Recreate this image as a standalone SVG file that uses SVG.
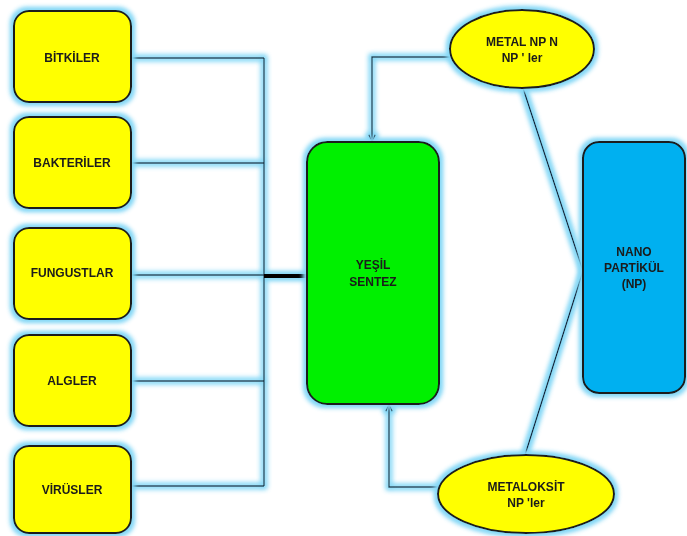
<svg xmlns="http://www.w3.org/2000/svg" width="687" height="536" viewBox="0 0 687 536">
  <defs>
    <style>
      .src { fill: #ffff00; stroke: #1a1a1a; stroke-width: 2; }
      .lbl { font-family: "Liberation Sans", Arial, sans-serif; font-weight: bold; font-size: 12px; fill: #1a1a1a; text-anchor: middle; }
      .wire { fill: none; stroke: #15283f; stroke-width: 1.4; }
    </style>
    <filter id="glow" filterUnits="userSpaceOnUse" x="0" y="0" width="687" height="536">
      <feMorphology in="SourceAlpha" operator="dilate" radius="2" result="d"/>
      <feGaussianBlur in="d" stdDeviation="2.5" result="b"/>
      <feFlood flood-color="#86d8f6"/>
      <feComposite in2="b" operator="in" result="g"/>
      <feMerge><feMergeNode in="g"/><feMergeNode in="g"/><feMergeNode in="SourceGraphic"/></feMerge>
    </filter>
    <marker id="open" viewBox="0 0 10 10" refX="9" refY="5" markerWidth="9" markerHeight="9" orient="auto" markerUnits="userSpaceOnUse">
      <path d="M1,1.5 L9,5 L1,8.5" fill="none" stroke="#15283f" stroke-width="1.4"/>
    </marker>
  </defs>

  <rect width="687" height="536" fill="#ffffff"/>

  <!-- connectors -->
  <g id="connectors" filter="url(#glow)">
    <path class="wire" d="M131,58 H264 M131,163 H264 M131,275 H264 M131,381 H264 M131,486 H264 M264,58 V486"/>
    <path d="M264,276 H307" stroke="#000000" stroke-width="4" fill="none"/>
    <path class="wire" d="M450,57 H372 V142" marker-end="url(#open)"/>
    <path class="wire" d="M438,487 H389 V404" marker-end="url(#open)"/>
    <path class="wire" d="M523,88 L583,271 L525,455"/>
  </g>

  <!-- source organisms -->
  <g id="bitkiler" filter="url(#glow)">
    <rect class="src" x="14" y="11" width="117" height="91" rx="15"/>
    <text class="lbl" x="72" y="62">BİTKİLER</text>
  </g>
  <g id="bakteriler" filter="url(#glow)">
    <rect class="src" x="14" y="117" width="117" height="91" rx="15"/>
    <text class="lbl" x="72" y="167">BAKTERİLER</text>
  </g>
  <g id="fungustlar" filter="url(#glow)">
    <rect class="src" x="14" y="228" width="117" height="91" rx="15"/>
    <text class="lbl" x="72" y="277">FUNGUSTLAR</text>
  </g>
  <g id="algler" filter="url(#glow)">
    <rect class="src" x="14" y="335" width="117" height="91" rx="15"/>
    <text class="lbl" x="72" y="385">ALGLER</text>
  </g>
  <g id="virusler" filter="url(#glow)">
    <rect class="src" x="14" y="446" width="117" height="87" rx="15"/>
    <text class="lbl" x="72" y="494">VİRÜSLER</text>
  </g>

  <!-- green synthesis -->
  <g id="yesil-sentez" filter="url(#glow)">
    <rect x="307" y="142" width="132" height="262" rx="20" fill="#00f000" stroke="#1a1a1a" stroke-width="2"/>
    <text class="lbl" x="373" y="269">YEŞİL</text>
    <text class="lbl" x="373" y="286">SENTEZ</text>
  </g>

  <!-- metal nanoparticles -->
  <g id="metal-np" filter="url(#glow)">
    <ellipse cx="522" cy="49" rx="72" ry="39" fill="#ffff00" stroke="#1a1a1a" stroke-width="2"/>
    <text class="lbl" x="522" y="46">METAL NP N</text>
    <text class="lbl" x="522" y="62">NP ' ler</text>
  </g>

  <!-- metal oxide nanoparticles -->
  <g id="metaloksit-np" filter="url(#glow)">
    <ellipse cx="526" cy="494" rx="88" ry="39" fill="#ffff00" stroke="#1a1a1a" stroke-width="2"/>
    <text class="lbl" x="526" y="491">METALOKSİT</text>
    <text class="lbl" x="526" y="507">NP 'ler</text>
  </g>

  <!-- nanoparticle -->
  <g id="nano-partikul" filter="url(#glow)">
    <rect x="583" y="142" width="102" height="251" rx="16" fill="#00b0f0" stroke="#1a1a1a" stroke-width="2"/>
    <text class="lbl" x="634" y="256">NANO</text>
    <text class="lbl" x="634" y="272">PARTİKÜL</text>
    <text class="lbl" x="634" y="288">(NP)</text>
  </g>
</svg>
